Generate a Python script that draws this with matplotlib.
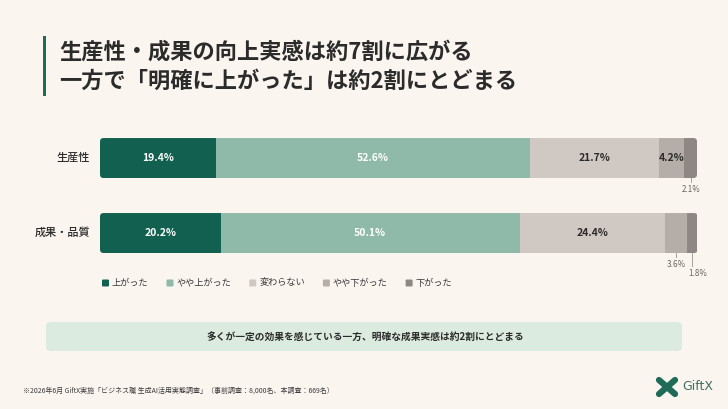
import matplotlib
matplotlib.use("Agg")
import matplotlib.pyplot as plt
from matplotlib.patches import FancyBboxPatch, Rectangle
import numpy as np

plt.rcParams['font.family'] = ['Noto Sans CJK JP', 'DejaVu Sans']

# ---- data ----
categories = ["生産性", "成果・品質"]
series_names = ["上がった", "やや上がった", "変わらない", "やや下がった", "下がった"]
values_productivity = [19.4, 52.6, 21.7, 4.2, 2.1]
values_quality = [20.2, 50.1, 24.4, 3.6, 1.8]
colors = ["#12604f", "#8fbaa9", "#d0c8c2", "#b5ada7", "#8f8783"]
title_lines = ["生産性・成果の向上実感は約7割に広がる", "一方で「明確に上がった」は約2割にとどまる"]
banner_text = "多くが一定の効果を感じている一方、明確な成果実感は約2割にとどまる"
footnote = "※2026年6月 GiftX実施「ビジネス職 生成AI活用実態調査」（事前調査：8,000名、本調査：669名）"

data = [values_productivity, values_quality]

W, H = 728, 409
BG = "#faf5ef"
fig = plt.figure(figsize=(W / 100, H / 100), dpi=100, facecolor=BG)

def fx(px):
    return px / W

def fy(py):
    return 1 - py / H

# title
fig.add_artist(Rectangle((fx(43), fy(96)), 3 / W, 60 / H, transform=fig.transFigure,
                         color="#1d6b58", lw=0))
fig.text(fx(59), fy(52.5), title_lines[0], fontsize=16, fontweight='bold', color="#2b2b2b", va='center')
fig.text(fx(59), fy(81), title_lines[1], fontsize=16, fontweight='bold', color="#2b2b2b", va='center')

# bars axes
ax = fig.add_axes([fx(100), fy(270), 597 / W, 150 / H])
ax.set_facecolor('none')
ax.set_xlim(0, 100)
ax.set_ylim(1.493, -0.507)
ax.axis('off')
bar_h = 0.533
px_per_x = 597 / 100
px_per_y = 75

for i, vals in enumerate(data):
    total = sum(vals)
    clip = FancyBboxPatch((0, i - bar_h / 2), total, bar_h,
                          boxstyle="round,pad=0,rounding_size=0.6",
                          mutation_aspect=px_per_x / px_per_y,
                          transform=ax.transData, facecolor='none', edgecolor='none')
    ax.add_patch(clip)
    bars = ax.barh(i, vals, left=np.cumsum([0] + vals[:-1]), height=bar_h,
                   color=colors, linewidth=0)
    for b in bars:
        b.set_clip_path(clip)
    ax.text(-1.7, i, categories[i], ha='right', va='center', fontsize=8,
            fontweight='medium', color="#2b2b2b")

# value labels
def inside(i, k, color):
    vals = data[i]
    left = sum(vals[:k])
    ax.text(left + vals[k] / 2, i, f"{vals[k]:.1f}%", ha='center', va='center',
            fontsize=7.5, fontweight='bold', color=color)

for i in range(2):
    inside(i, 0, "white")
    inside(i, 1, "white")
    inside(i, 2, "#2b2b2b")
inside(0, 3, "#2b2b2b")

def outside(i, k, drop_px, dx=0):
    vals = data[i]
    xc = sum(vals[:k]) + vals[k] / 2
    y0 = i + bar_h / 2
    y1 = y0 + drop_px / px_per_y
    ax.plot([xc, xc], [y0, y1], color="#9a938e", lw=0.6, clip_on=False)
    ax.text(xc + dx, y1 + 2.5 / px_per_y, f"{vals[k]:.1f}%", ha='center', va='top',
            fontsize=5.8, color="#6a6460")

outside(0, 4, 4)
outside(1, 3, 4)
outside(1, 4, 13, dx=1.0)

# legend
fig.canvas.draw()
renderer = fig.canvas.get_renderer()
x = 102
ly = 283
for name, c in zip(series_names, colors):
    fig.add_artist(FancyBboxPatch((fx(x), fy(ly + 3.5)), 7 / W, 7 / H,
                                  boxstyle="round,pad=0,rounding_size=0.002",
                                  transform=fig.transFigure, facecolor=c, edgecolor='none'))
    t = fig.text(fx(x + 10), fy(ly), name, fontsize=6.6, color="#3a3a3a", va='center')
    bb = t.get_window_extent(renderer)
    x = x + 10 + bb.width + 18

# banner
fig.add_artist(FancyBboxPatch((fx(46), fy(351)), 636 / W, 29 / H,
                              boxstyle="round,pad=0,rounding_size=0.008",
                              transform=fig.transFigure, facecolor="#dcebe0", edgecolor='none'))
fig.text(fx(365), fy(336.5), banner_text, ha='center', va='center', fontsize=7,
         fontweight='bold', color="#2b2b2b")

# footnote
fig.text(fx(23), fy(391), footnote, fontsize=5.0, color="#3a3a3a", va='center')

# logo
lc = "#1d6b58"
fig.add_artist(plt.Line2D([fx(659), fx(675)], [fy(380), fy(394)], transform=fig.transFigure,
                          color=lc, lw=4.5, solid_capstyle='round'))
fig.add_artist(plt.Line2D([fx(659), fx(675)], [fy(394), fy(380)], transform=fig.transFigure,
                          color=lc, lw=4.5, solid_capstyle='round'))
fig.text(fx(682), fy(387), "GiftX", fontsize=9, color="#3f6f60", va='center',
         family=['DejaVu Sans'])

fig.savefig("out.png", dpi=100, facecolor=BG)
